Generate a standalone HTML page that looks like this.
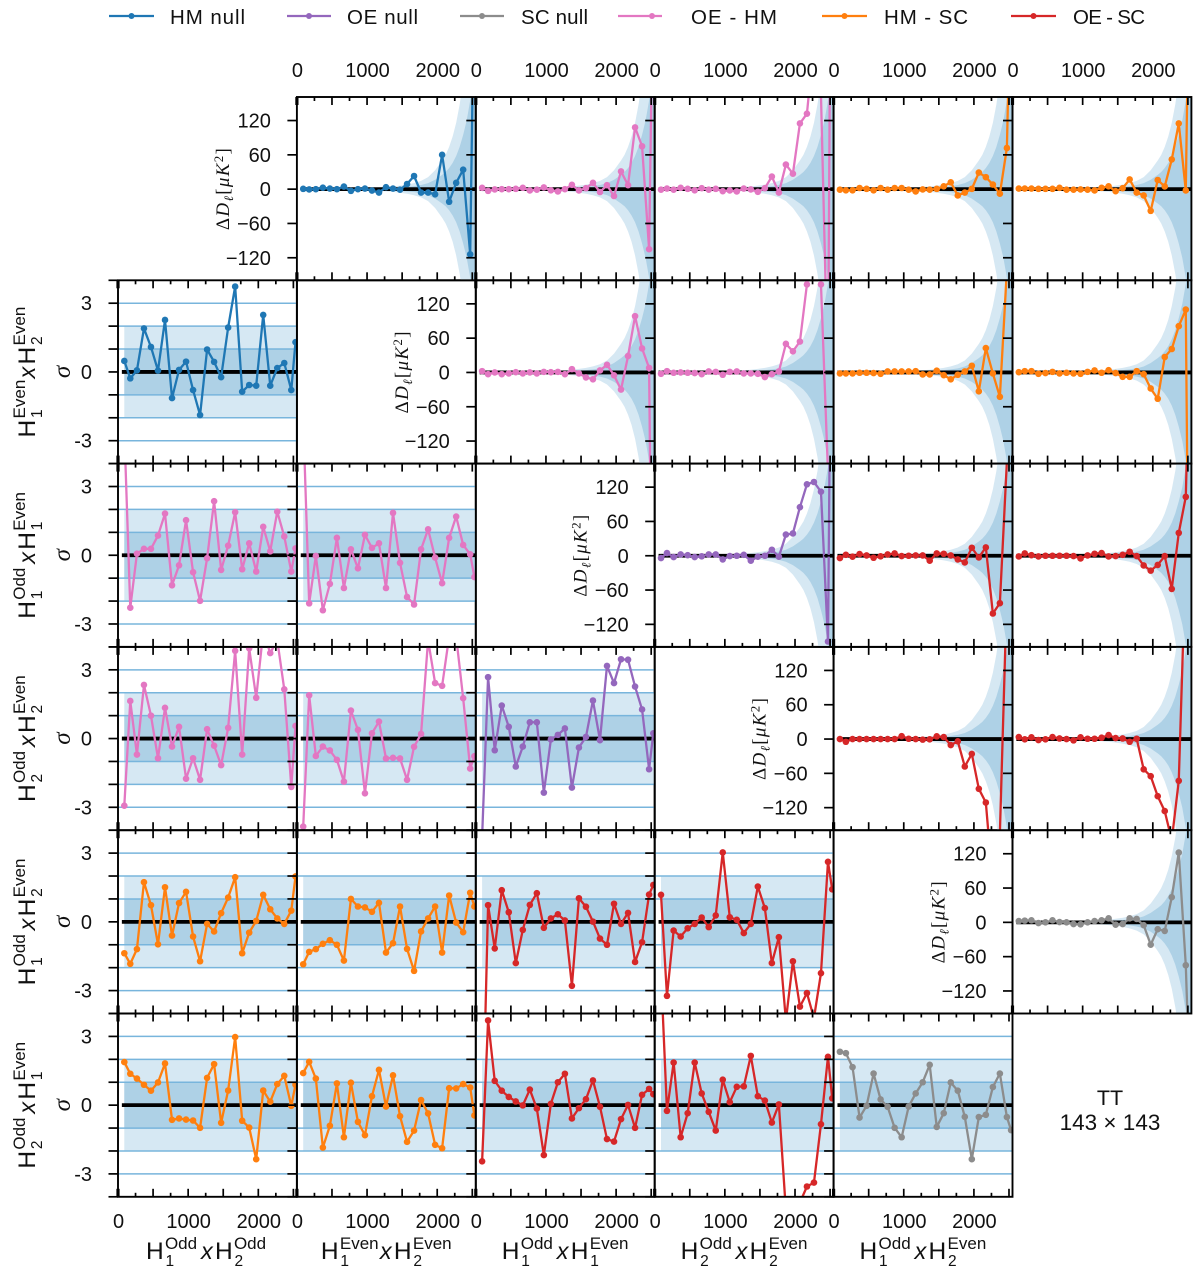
<!DOCTYPE html>
<html lang="en">
<head>
<meta charset="utf-8">
<title>TT 143 x 143 null tests</title>
<style>
html,body{margin:0;padding:0;background:#fff;}
svg{display:block;font-family:"Liberation Sans",sans-serif;}
</style>
</head>
<body>
<svg id="chart" xmlns="http://www.w3.org/2000/svg" width="1200" height="1273" viewBox="0 0 1200 1273">
  <rect x="0" y="0" width="1200" height="1273" fill="#fff"/>
  <g id="plots"></g>
  <g font-size="20.5" fill="#111">
    <g><line x1="109" x2="154" y1="16" y2="16" stroke="#1f77b4" stroke-width="2.2"/><circle cx="131.5" cy="16" r="3" fill="#1f77b4"/><text x="170" y="24" textLength="75">HM null</text></g>
    <g><line x1="287" x2="331" y1="16" y2="16" stroke="#9467bd" stroke-width="2.2"/><circle cx="309" cy="16" r="3" fill="#9467bd"/><text x="347" y="24" textLength="71">OE null</text></g>
    <g><line x1="460" x2="504" y1="16" y2="16" stroke="#8c8c8c" stroke-width="2.2"/><circle cx="482" cy="16" r="3" fill="#8c8c8c"/><text x="521" y="24" textLength="67">SC null</text></g>
    <g><line x1="618" x2="662" y1="16" y2="16" stroke="#e377c2" stroke-width="2.2"/><circle cx="652" cy="16" r="3" fill="#e377c2"/><text x="691" y="24" textLength="86">OE - HM</text></g>
    <g><line x1="822" x2="867" y1="16" y2="16" stroke="#ff7f0e" stroke-width="2.2"/><circle cx="844.5" cy="16" r="3" fill="#ff7f0e"/><text x="884" y="24" textLength="84">HM - SC</text></g>
    <g><line x1="1011" x2="1056" y1="16" y2="16" stroke="#d62728" stroke-width="2.2"/><circle cx="1033.5" cy="16" r="3" fill="#d62728"/><text x="1073" y="24" textLength="72">OE - SC</text></g>
  </g>
  <g fill="#111" text-anchor="middle">
    <text x="1110" y="1105" font-size="21.5">TT</text>
    <text x="1110" y="1130" font-size="22.5">143 × 143</text>
  </g>
</svg>
<script>
// Multipole bin centres shared by all panels
const ell = [90,175,270,370,470,570,670,770,870,970,1070,1170,1270,1370,1470,1570,1670,1770,1870,1970,2070,2170,2270,2370,2470,2530];

// Expected 1-sigma envelope of a difference spectrum (uK^2)
const bandEll = [90,175,270,370,470,570,670,770,870,970,1070,1170,1270,1370,1470,1570,1670,1770,1870,1970,2070,2120,2170,2220,2270,2320,2370,2420,2470,2510,2550];
const bandSigma = [2,1.2,0.9,0.8,0.7,0.7,0.7,0.8,0.9,1,1.2,1.5,1.9,2.4,3.1,4,5.3,7.2,10.5,16.5,25,30,37,46,58,74,95,120,155,190,240];

// Tick labels
const xTickLabels = [0,1000,2000];
const deltaTicks = [120,60,0,-60,-120];
const sigmaTicks = [4,3,2,1,0,-1,-2,-3,-4];
const sigmaTickLabels = [3,0,-3];

// Upper triangle: power-spectrum differences (uK^2)
const deltaR0C1 = [0.5,-0.5,0,2.5,1,0,4.5,-3,0,1,-2.5,-6,3.5,1,-1,9,23,-6,-6,-9,60,-22,11,34,-114,400];
const deltaR0C2 = [2.3,-3,-0.5,0,0,0.5,2.3,-2.3,-1,3,-2,-4,0,7.6,-2.3,1.7,11,-5,7,-12,31,7,108,75,-105,400];
const deltaR0C3 = [-1,1,-1,2.3,0.5,-2,1.7,-1,0.5,-3.5,-2.3,-4,1,-0.5,-4.7,1.7,22,-6,43,27,115,132,260,165,-340,900];
const deltaR0C4 = [-1,-2,-2,2,0.5,-2,2,-1,2,2,-1,-4,-0.5,-1,0.5,5,12,-11,-6,0.5,29,21,8,-8,72,400];
const deltaR0C5 = [1,1,1,0.5,0.5,0.5,2.3,-1,-1,-0.5,-1,-2.3,2.3,5,-3.5,1.7,17,-6,-11,-38,16,4.7,52,115,-2.3,500];
const deltaR1C2 = [2.3,-3,0,-3,-1.7,0.5,-1.7,0,-1.7,1,0.5,1,-3,5.8,-1.7,-8.7,-12,3.5,13.4,-5,-30,28.6,98.5,42,8,-700];
const deltaR1C3 = [-2.3,2.3,-0.5,0,-0.5,-1,-3,1.7,1,-4,1,1.7,-1.7,-1.7,-2.3,-8,-3,1.7,50,37,54,154,300,154,-175,-600];
const deltaR1C4 = [-1.7,-1.7,-1.7,-0.5,-0.5,-1,-2.3,1.7,1.7,1.7,1.7,2.3,-3.5,-3.5,3,-4.7,-12,-4,1.7,11.7,-33,42.6,-1.7,-42.6,180,400];
const deltaR1C5 = [0.5,2.3,2.3,-2.3,-1,1,-1.7,-0.5,-1.7,-2.3,1,3.5,-0.5,4,-1,-7.6,-7.6,2.3,-3,-28,-46,27,41,81,110,-700];
const deltaR2C3 = [-4,4.7,-2.3,2.3,1,-2.3,-1,2.3,2.3,-6.4,-0.5,0,1.7,-8.7,-1.7,0,10.5,-1.7,37,39,85,125,129,112,-150,700];
const deltaR2C4 = [-4,1.7,-1.7,3,0.5,-3.5,-1,2.3,4,-0.5,0,0.5,0.5,-8.7,4,3.5,0.5,-6.4,-11.7,14,-3,14.6,-101,-83,165,600];
const deltaR2C5 = [-1.2,4,1,-1.2,0,0,0,0,-0.5,-4.7,0.5,3.5,4.7,-1.2,-0.5,1.7,7,-0.5,-17,-26,-16,-0.5,-58,40,103,400];
const deltaR3C4 = [0,-4.7,0,0,0,0,0,0,0,5,0.5,0,-1,-0.5,4.7,3.5,-10.5,-4,-48,-26,-87,-111,-256,-165,257,700];
const deltaR3C5 = [3.5,-0.5,3,-1.7,-0.5,3.5,1,0,-2.3,3,0.5,0.5,2.3,7,1.7,1,-4.7,0.5,-53,-65,-100,-126,-177,-73,321,700];
const deltaR4C5 = [2.3,3,3.5,-1.2,0,3.5,0.5,0,-3,-3.5,0,2.3,3.5,7,-4,-3,7,6,-5,-39,-12,-15,44,122,-75,-300];

// Lower triangle: the same differences in units of sigma
const sigmaR1C0 = [0.48,-0.28,0.07,1.9,1.09,0.06,2.27,-1.14,0.09,0.45,-0.79,-1.88,0.98,0.44,-0.23,1.94,3.73,-0.86,-0.57,-0.6,2.49,-0.6,0.17,0.39,-0.79,1.3];
const sigmaR2C0 = [5.5,-2.29,0.07,0.28,0.28,0.86,1.82,-1.31,-0.44,1.53,-0.74,-1.99,-0.13,2.36,-0.64,0.42,1.88,-0.61,0.52,-0.71,1.24,0.17,1.9,0.82,-0.71,0.3];
const sigmaR2C1 = [6,-2.1,-0.03,-2.4,-1.25,0.76,-1.43,0.26,-0.57,0.89,0.32,0.52,-1.43,1.85,-0.33,-1.82,-2.15,0.26,1.13,-0.1,-1.22,0.76,1.69,0.45,0.04,-0.95];
const sigmaR3C0 = [-2.93,1.64,-0.7,2.34,1,-0.86,1.34,-0.35,0.51,-1.75,-0.86,-1.8,0.41,-0.31,-1.16,0.47,3.83,-0.7,3.94,1.78,4.67,3.73,4.3,2.15,-2.11,0.55];
const sigmaR3C1 = [-3.84,1.89,-0.76,-0.35,-0.52,-0.93,-1.88,1.22,0.38,-2.39,0.23,0.74,-0.87,-0.84,-0.87,-1.8,-0.36,0.2,4.3,2.42,2.3,4.45,4.45,1.76,-1.31,-0.77];
const sigmaR3C2 = [-4.3,2.68,-0.51,1.44,0.51,-1.22,-0.35,0.71,0.71,-2.36,-0.04,0.16,0.44,-2.14,-0.39,0.07,1.66,-0.07,3.17,2.42,3.46,3.44,2.27,1.27,-1.34,0.23];
const sigmaR4C0 = [-1.37,-1.83,-1.19,1.73,0.73,-0.98,1.51,-0.6,0.82,1.31,-0.64,-1.72,-0.09,-0.42,0.38,1.06,1.95,-1.37,-0.47,0.04,1.18,0.55,0.15,-0.09,0.49,1.98];
const sigmaR4C1 = [-1.85,-1.31,-1.19,-0.96,-0.8,-1,-1.69,1,0.67,0.63,0.44,0.83,-1.34,-0.93,0.67,-1.18,-2.14,-0.42,0.15,0.67,-1.34,1.15,-0.03,-0.45,1.27,0.67];
const sigmaR4C2 = [-10,0.73,-1.16,1.38,0.42,-1.8,-0.35,0.74,1.25,-0.26,0.15,0.33,0.06,-2.79,1.03,0.66,0.01,-0.73,-1,0.79,-0.09,0.39,-1.75,-0.89,1.19,1.61];
const sigmaR4C3 = [1.18,-3.23,-0.38,-0.64,-0.28,-0.09,0.19,-0.23,0.28,3.03,0.2,0.09,-0.49,-0.09,1.54,0.6,-1.8,-0.67,-4.3,-1.72,-3.7,-3.11,-4.2,-2.24,2.62,1.42];
const sigmaR5C0 = [1.88,1.37,1.16,0.89,0.63,0.99,1.82,-0.64,-0.58,-0.63,-0.67,-0.99,1.19,1.79,-0.77,0.64,2.97,-0.68,-0.98,-2.36,0.64,0.15,0.92,1.28,-0.03,0.89];
const sigmaR5C1 = [1.4,1.89,1.16,-1.85,-0.9,0.95,-1.4,0.98,-0.73,-1.31,0.39,1.54,-0.06,1.3,-0.48,-1.6,-1.11,0.22,-0.36,-1.73,-1.88,0.74,0.73,0.92,0.77,-0.45];
const sigmaR5C2 = [-2.45,3.7,1.06,0.63,0.36,0.16,-0.01,0.68,-0.15,-2.18,0.06,1,1.37,-0.58,-0.13,0.26,1.08,-0.07,-1.48,-1.59,-0.61,0.01,-0.99,0.45,0.71,0.48];
const sigmaR5C3 = [5.8,-0.25,1.86,-1.4,-0.35,1.86,0.51,-0.29,-1.11,1.11,0.13,0.8,0.82,2.15,0.39,0.2,-0.76,0.03,-4.6,-5.6,-4.25,-3.55,-3.38,-0.83,2.11,0.3];
const sigmaR5C4 = [2.33,2.27,1.66,-0.54,-0.03,1.38,0.25,-0.07,-0.99,-1.4,-0.06,0.51,1,1.76,-0.95,-0.35,0.99,0.63,-0.51,-2.36,-0.52,-0.42,0.79,1.38,-0.52,-1.09];

// Which series sits in which panel: [row, column, series name, values]
const upperPanels = [
  [0,1,'hm-null',deltaR0C1],[0,2,'oe-hm',deltaR0C2],[0,3,'oe-hm',deltaR0C3],[0,4,'hm-sc',deltaR0C4],[0,5,'hm-sc',deltaR0C5],
  [1,2,'oe-hm',deltaR1C2],[1,3,'oe-hm',deltaR1C3],[1,4,'hm-sc',deltaR1C4],[1,5,'hm-sc',deltaR1C5],
  [2,3,'oe-null',deltaR2C3],[2,4,'oe-sc',deltaR2C4],[2,5,'oe-sc',deltaR2C5],
  [3,4,'oe-sc',deltaR3C4],[3,5,'oe-sc',deltaR3C5],
  [4,5,'sc-null',deltaR4C5]
];
const lowerPanels = [
  [1,0,'hm-null',sigmaR1C0],
  [2,0,'oe-hm',sigmaR2C0],[2,1,'oe-hm',sigmaR2C1],
  [3,0,'oe-hm',sigmaR3C0],[3,1,'oe-hm',sigmaR3C1],[3,2,'oe-null',sigmaR3C2],
  [4,0,'hm-sc',sigmaR4C0],[4,1,'hm-sc',sigmaR4C1],[4,2,'oe-sc',sigmaR4C2],[4,3,'oe-sc',sigmaR4C3],
  [5,0,'hm-sc',sigmaR5C0],[5,1,'hm-sc',sigmaR5C1],[5,2,'oe-sc',sigmaR5C2],[5,3,'oe-sc',sigmaR5C3],[5,4,'sc-null',sigmaR5C4]
];
const seriesColors = {'hm-null':'#1f77b4','oe-null':'#9467bd','sc-null':'#8c8c8c','oe-hm':'#e377c2','hm-sc':'#ff7f0e','oe-sc':'#d62728'};

// Axis-title labels: [first half-mission split, first subscript, second split, second subscript]
const rowTitles = [null,['Even',1,'Even',2],['Odd',1,'Even',1],['Odd',2,'Even',2],['Odd',1,'Even',2],['Odd',2,'Even',1]];
const colTitles = [['Odd',1,'Odd',2],['Even',1,'Even',2],['Odd',1,'Even',1],['Odd',2,'Even',2],['Odd',1,'Even',2]];

const NS = 'http://www.w3.org/2000/svg';
const X0 = 118, Y0 = 97, CW = 178.9, RH = 183.3;
const ELL_MAX = 2550, DELTA_MAX = 160.3, SIGMA_MAX = 4;
const root = document.getElementById('plots');

function mk(tag, attrs, parent) {
  const e = document.createElementNS(NS, tag);
  for (const k in attrs) e.setAttribute(k, attrs[k]);
  if (parent) parent.appendChild(e);
  return e;
}
function left(c) { return X0 + c * CW; }
function top_(r) { return Y0 + r * RH; }
function xAxis(c, v) { return left(c) + v / ELL_MAX * CW; }
function yAxis(r, v, max) { return top_(r) + RH / 2 - v / max * RH / 2 + (max === DELTA_MAX ? 0.5 : 0); }

function drawBands(g, c, r, max, scale) {
  const levels = [[2, '#d6e8f3', 'outer-band'], [1, '#aed1e6', 'inner-band']];
  levels.forEach(function (lev) {
    let up = '', down = '';
    bandEll.forEach(function (l, i) {
      const s = scale ? bandSigma[i] * lev[0] : lev[0];
      up += xAxis(c, l).toFixed(2) + ',' + yAxis(r, s, max).toFixed(2) + ' ';
      down = xAxis(c, l).toFixed(2) + ',' + yAxis(r, -s, max).toFixed(2) + ' ' + down;
    });
    const poly = mk('polygon', {points: up + down, fill: lev[1]}, g);
    
    
  });
}

function drawSeries(g, r, c, name, values, max) {
  const col = seriesColors[name];
  const sg = mk('g', {}, g);
  
  
  const pts = values.map(function (v, i) {
    return xAxis(c, ell[i]).toFixed(2) + ',' + yAxis(r, v, max).toFixed(2);
  }).join(' ');
  const line = mk('polyline', {points: pts, fill: 'none', stroke: col, 'stroke-width': 2.3, 'stroke-linejoin': 'round'}, sg);
  
  
  values.forEach(function (v, i) {
    const dot = mk('circle', {cx: xAxis(c, ell[i]).toFixed(2), cy: yAxis(r, v, max).toFixed(2), r: 3.3, fill: col}, sg);
    
    
  });
}

function drawXTicks(g, r, c) {
  const yT = top_(r), yB = top_(r) + RH;
  for (let l = 0; l <= 2500; l += 250) {
    const major = l % 500 === 0;
    const len = major ? 8 : 4;
    const w = l === 0 ? 3.2 : 1.7;
    const x = xAxis(c, l);
    const t1 = mk('line', {x1: x, x2: x, y1: yT, y2: yT + len, stroke: '#000', 'stroke-width': w}, g);
    
    
    const t2 = mk('line', {x1: x, x2: x, y1: yB - len, y2: yB, stroke: '#000', 'stroke-width': w}, g);
    
    
  }
}

function drawYTicks(g, r, c, ticks, max) {
  ticks.forEach(function (v) {
    const y = yAxis(r, v, max);
    const t = mk('line', {x1: left(c) - 9.5, x2: left(c), y1: y, y2: y, stroke: '#000', 'stroke-width': 1.7}, g);
    
    
  });
}

function drawFrame(g, r, c) {
  const f = mk('rect', {x: left(c), y: top_(r), width: CW, height: RH, fill: 'none', stroke: '#000', 'stroke-width': 1.9}, g);
  
  
}

function yLabel(g, x, y, txt) {
  const t = mk('text', {x: x, y: y + 7, 'text-anchor': 'end', 'font-size': 20, fill: '#111'}, g);
  t.textContent = txt;
  
  
}

function xLabels(r, c, baseline) {
  xTickLabels.forEach(function (v) {
    const t = mk('text', {x: xAxis(c, v) + 0.5, y: baseline, 'text-anchor': 'middle', 'font-size': 20, fill: '#111'}, root);
    t.textContent = v;
    
    
  });
}

function deltaTitle(x, y) {
  const t = mk('text', {transform: 'translate(' + x + ',' + y + ') rotate(-90)', 'text-anchor': 'middle', 'font-family': '"Liberation Serif",serif', 'font-size': 19, fill: '#111', textLength: 82}, root);
  
  
  const parts = [['Δ', 'normal', 0, 19], ['D', 'italic', 0, 19], ['ℓ', 'italic', 4, 13], ['[', 'normal', -4, 19], ['μK', 'italic', 0, 19], ['2', 'normal', -6, 13], [']', 'normal', 6, 19]];
  parts.forEach(function (p) {
    const s = mk('tspan', {'font-style': p[1], dy: p[2], 'font-size': p[3]}, t);
    s.textContent = p[0];
  });
}

function sigmaTitle(x, y) {
  const t = mk('text', {transform: 'translate(' + x + ',' + y + ') rotate(-90)', 'text-anchor': 'middle', 'font-family': '"Liberation Serif",serif', 'font-style': 'italic', 'font-size': 25, fill: '#111'}, root);
  t.textContent = 'σ';
  
  
}

function pairTitle(tx, ty, rotated, spec) {
  const g = mk('g', {transform: 'translate(' + tx + ',' + ty + ')' + (rotated ? ' rotate(-90)' : ''), fill: '#111'}, root);
  
  
  const wid = {Odd: 33, Even: 37};
  const total = 16 + 2 + wid[spec[0]] + 3 + 11 + 4 + 16 + 2 + wid[spec[2]];
  let x = -total / 2;
  function put(txt, px, py, size, style) {
    const t = mk('text', {x: px, y: py, 'font-size': size}, g);
    if (style) t.setAttribute('font-style', style);
    t.textContent = txt;
    return t;
  }
  function half(sup, sub) {
    put('H', x - 1.5, 0, 24.5);
    x += 18;
    put(sup, x - 0.5, -10, 17);
    put(sub, x, 7, 15.5);
    x += wid[sup];
  }
  half(spec[0], spec[1]);
  x += 3;
  put('x', x - 0.5, 0, 23.5, 'italic');
  x += 15;
  half(spec[2], spec[3]);
}

function drawPanel(r, c, name, values, upper) {
  const g = mk('g', {}, root);
  
  
  const clipId = 'clip-' + r + '-' + c;
  const cp = mk('clipPath', {id: clipId}, g);
  mk('rect', {x: left(c), y: top_(r), width: CW, height: RH}, cp);
  const plot = mk('g', {'clip-path': 'url(#' + clipId + ')'}, g);
  const max = upper ? DELTA_MAX : SIGMA_MAX;
  drawBands(plot, c, r, max, upper);
  if (!upper) {
    [3, 2, 1, -1, -2, -3].forEach(function (v) {
      const h = mk('line', {x1: left(c), x2: left(c) + CW, y1: yAxis(r, v, max), y2: yAxis(r, v, max), stroke: '#78b5dc', 'stroke-width': 1.5}, plot);
      
      
    });
  }
  const z = mk('line', {x1: xAxis(c, 55), x2: left(c) + CW, y1: yAxis(r, 0, max), y2: yAxis(r, 0, max), stroke: '#000', 'stroke-width': 3.8}, plot);
  
  
  drawSeries(plot, r, c, name, values, max);
  drawFrame(g, r, c);
  drawXTicks(g, r, c);
  if (upper) drawYTicks(g, r, c, deltaTicks, max);
  else drawYTicks(g, r, c, sigmaTicks, max);
}

// Empty diagonal panels
for (let i = 1; i <= 4; i++) {
  const g = mk('g', {}, root);
  
  
  drawFrame(g, i, i);
}

const allPanels = upperPanels.map(function (p) { return p.concat([true]); })
  .concat(lowerPanels.map(function (p) { return p.concat([false]); }))
  .sort(function (a, b) { return a[0] - b[0] || a[1] - b[1]; });
allPanels.forEach(function (p) { drawPanel(p[0], p[1], p[2], p[3], p[4]); });

// Labels for the left-most upper panel of each row
for (let r = 0; r < 5; r++) {
  const c = r + 1;
  deltaTicks.forEach(function (v) {
    yLabel(root, left(c) - 26, yAxis(r, v, DELTA_MAX), String(v).replace('-', '−'));
  });
  deltaTitle(left(c) - 68, top_(r) + RH / 2 + 0.5);
}
// Labels for the lower panels in column 0
for (let r = 1; r < 6; r++) {
  sigmaTickLabels.forEach(function (v) {
    yLabel(root, 92, yAxis(r, v, SIGMA_MAX), String(v));
  });
  sigmaTitle(70, top_(r) + RH / 2);
  pairTitle(35, top_(r) + RH / 2, true, rowTitles[r]);
}
// Top and bottom x tick labels
for (let c = 1; c < 6; c++) xLabels(0, c, 77);
for (let c = 0; c < 5; c++) {
  xLabels(5, c, 1228);
  pairTitle(left(c) + CW / 2, 1259, false, colTitles[c]);
}
</script>
</body>
</html>
